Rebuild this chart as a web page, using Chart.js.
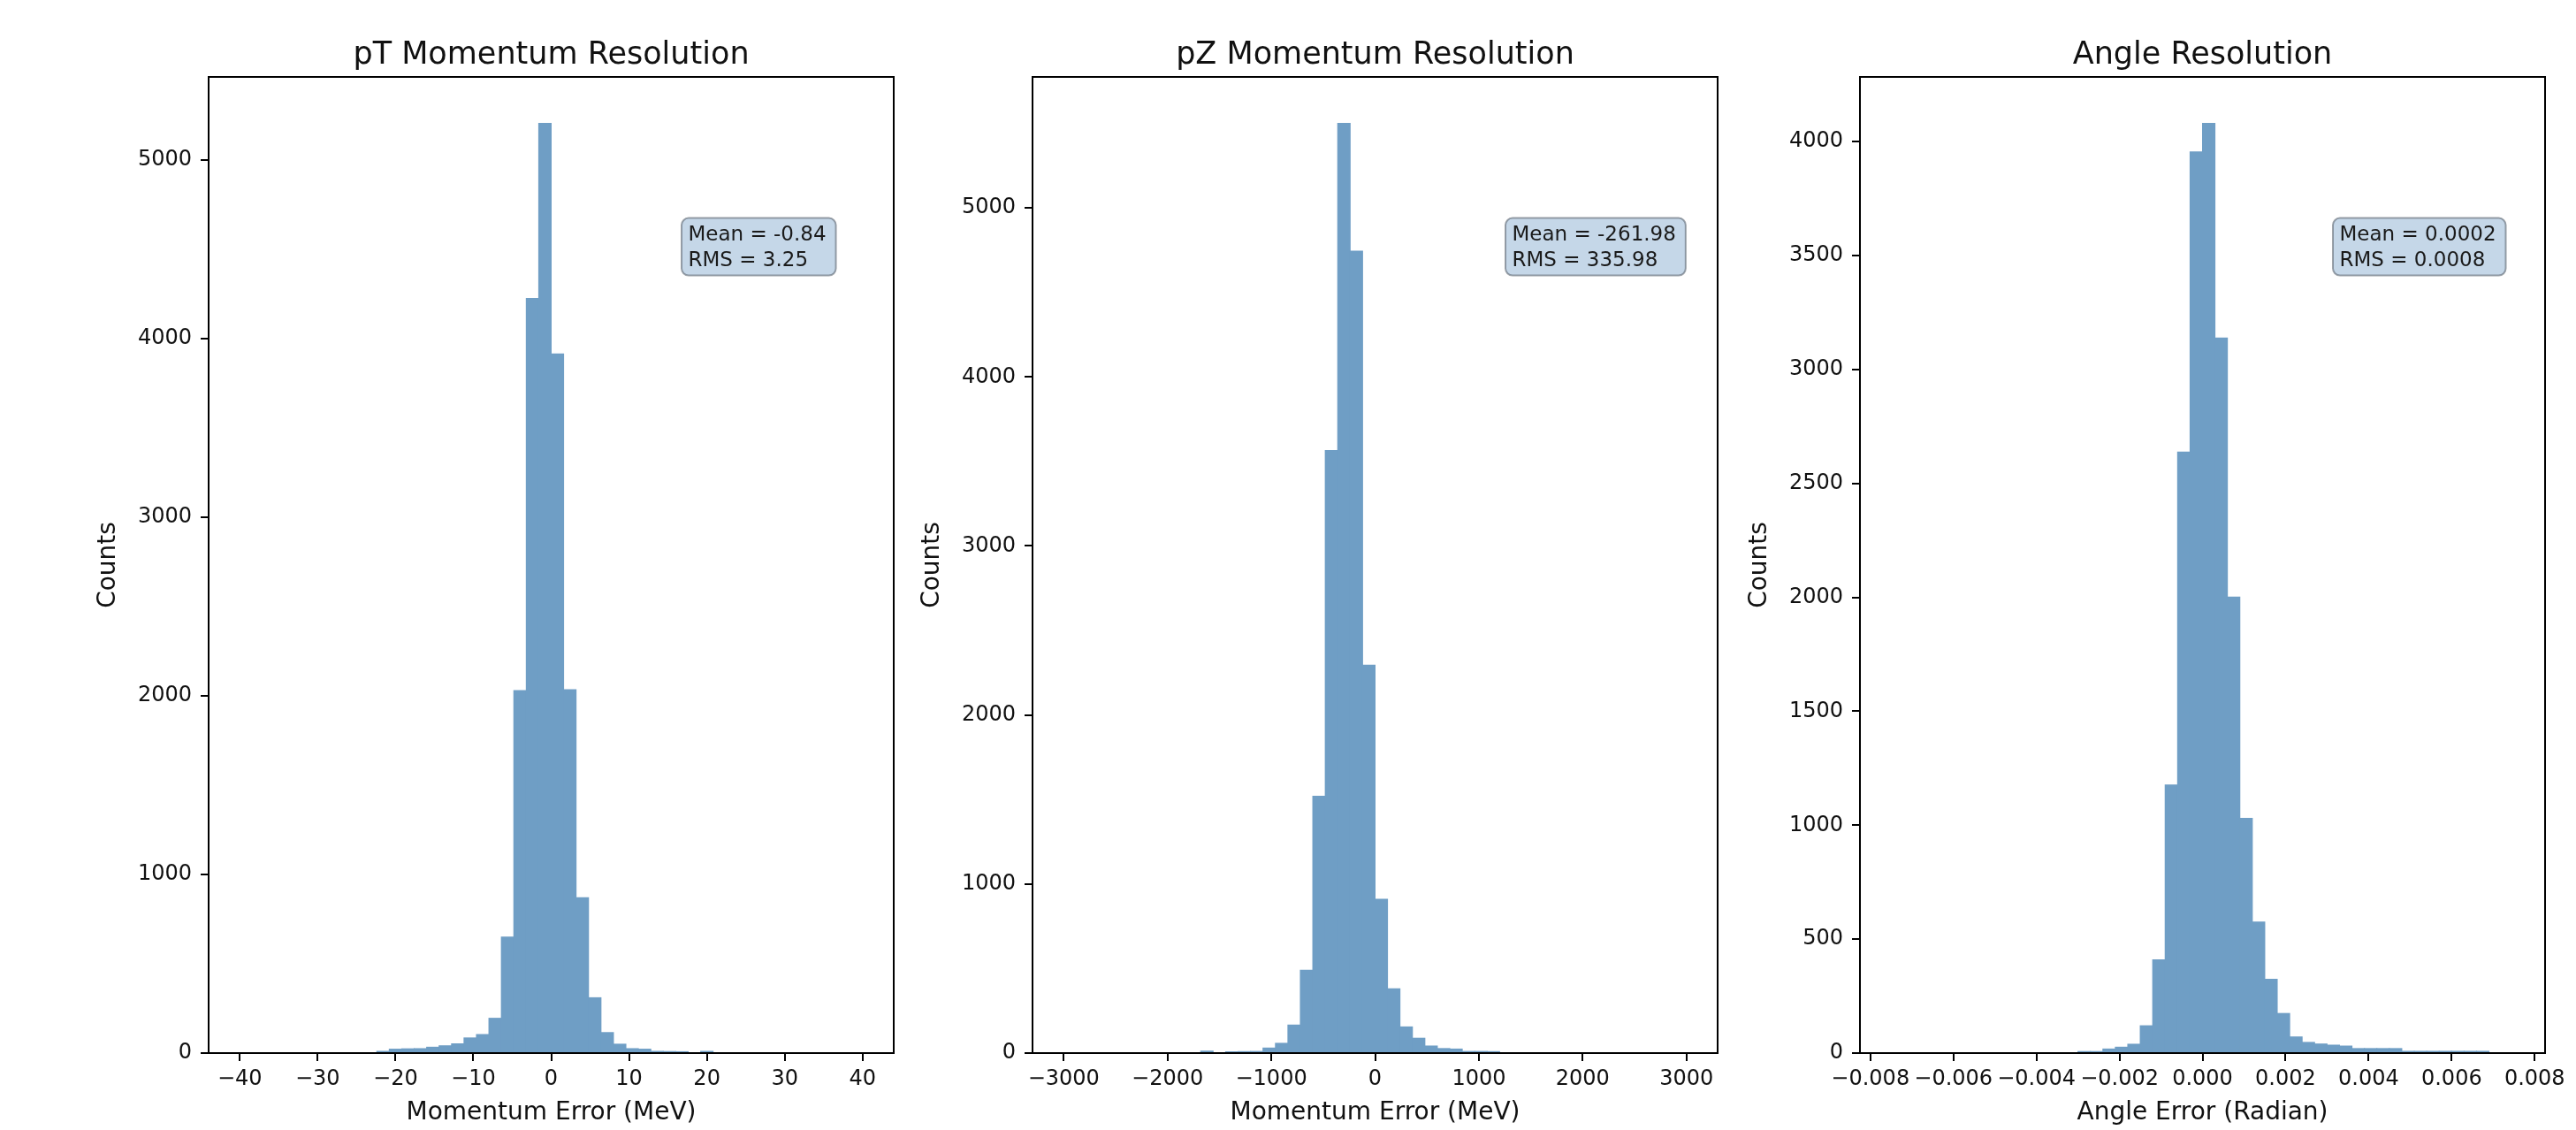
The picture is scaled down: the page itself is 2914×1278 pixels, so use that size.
<!DOCTYPE html>
<html>
<head>
<meta charset="utf-8">
<title>Resolution histograms</title>
<script src="https://cdn.jsdelivr.net/npm/chart.js@4.4.1/dist/chart.umd.min.js"></script>
<style>
  html, body { margin: 0; padding: 0; background: #fff; }
  body { width: 2914px; height: 1278px; position: relative; overflow: hidden; }
  canvas { position: absolute; top: 0; }
</style>
</head>
<body>
<canvas id="ptChart" width="960" height="1278" style="left:86px"></canvas>
<canvas id="pzChart" width="960" height="1278" style="left:1018px"></canvas>
<canvas id="angleChart" width="960" height="1278" style="left:1954px"></canvas>
<script>
// histogram ranges (bin edges span) and counts, 50 bins each
var ptRange = [-40, 40];
var ptCounts = [0, 0, 0, 0, 0, 0, 0, 0, 0, 0, 0,
  10, 22, 24, 25, 33, 41, 52, 85, 104, 195, 650, 2030, 4225, 5205,
  3915, 2035, 870, 310, 115, 50, 25, 22, 10, 9, 8, 0, 10,
  0, 0, 0, 0, 0, 0, 0, 0, 0, 0, 0, 0];

var pzRange = [-3000, 3000];
var pzCounts = [0, 0, 0, 0, 0, 0, 0, 0, 0, 0, 0,
  12, 0, 8, 9, 10, 30, 58, 166, 490, 1520, 3565, 5500, 4745, 2295,
  910, 380, 155, 88, 42, 27, 24, 10, 10, 9,
  0, 0, 0, 0, 0, 0, 0, 0, 0, 0, 0, 0, 0, 0, 0];

var angleRange = [-0.0075, 0.0075];
var angleCounts = [0, 0, 0, 0, 0, 0, 0, 0, 0, 0, 0, 0, 0, 0, 0,
  7, 7, 18, 26, 39, 120, 409, 1177, 2638, 3955,
  4080, 3138, 2001, 1030, 575, 324, 174, 71, 47, 40, 35, 31,
  20, 20, 20, 20, 8, 8, 8, 8, 8, 8, 8,
  0, 0];

// tick values
var ptXTicks = [-40, -30, -20, -10, 0, 10, 20, 30, 40];
var pzXTicks = [-3000, -2000, -1000, 0, 1000, 2000, 3000];
var angleXTicks = [-0.008, -0.006, -0.004, -0.002, 0, 0.002, 0.004, 0.006, 0.008];
var countTicks = [0, 1000, 2000, 3000, 4000, 5000];
var angleCountTicks = [0, 500, 1000, 1500, 2000, 2500, 3000, 3500, 4000];

var titles = ['pT Momentum Resolution', 'pZ Momentum Resolution', 'Angle Resolution'];
var xLabels = ['Momentum Error (MeV)', 'Momentum Error (MeV)', 'Angle Error (Radian)'];
var statLines = [
  ['Mean = -0.84', 'RMS = 3.25'],
  ['Mean = -261.98', 'RMS = 335.98'],
  ['Mean = 0.0002', 'RMS = 0.0008']
];

var FONT = 'DejaVu Sans';
var TEXT = '#111';
var BAR = 'rgb(111, 158, 197)';

Chart.defaults.font.family = FONT;

function minusFmt(v, digits) {
  var s = Math.abs(v).toFixed(digits);
  return (v < 0 && Number(s) !== 0 ? '\u2212' : '') + s;
}

// axes frame, title and the stats box
var framePlugin = {
  id: 'frame',
  afterDraw: function(chart, args, opts) {
    var ctx = chart.ctx, a = chart.chartArea;
    ctx.save();
    ctx.strokeStyle = '#000';
    ctx.lineWidth = 2;
    ctx.strokeRect(a.left, a.top, a.right - a.left, a.bottom - a.top);

    ctx.fillStyle = TEXT;
    ctx.font = '35px "' + FONT + '"';
    ctx.textAlign = 'center';
    ctx.textBaseline = 'alphabetic';
    ctx.fillText(opts.title, (a.left + a.right) / 2, a.top - 15);

    ctx.font = '23px "' + FONT + '"';
    var tx = a.left + 0.7 * (a.right - a.left);
    var ty = a.bottom - 0.85 * (a.bottom - a.top);
    var b1 = ty + 19.5, b2 = b1 + 28.5;
    var w = Math.max.apply(null, opts.stats.map(function(s) { return ctx.measureText(s).width; }));
    var x0 = tx - 7.5, y0 = ty - 6, x1 = tx + w + 11, y1 = b2 + 11, r = 8;
    ctx.beginPath();
    ctx.moveTo(x0 + r, y0);
    ctx.lineTo(x1 - r, y0);
    ctx.arcTo(x1, y0, x1, y0 + r, r);
    ctx.lineTo(x1, y1 - r);
    ctx.arcTo(x1, y1, x1 - r, y1, r);
    ctx.lineTo(x0 + r, y1);
    ctx.arcTo(x0, y1, x0, y1 - r, r);
    ctx.lineTo(x0, y0 + r);
    ctx.arcTo(x0, y0, x0 + r, y0, r);
    ctx.closePath();
    ctx.fillStyle = '#c5d7e8';
    ctx.fill();
    ctx.strokeStyle = 'rgba(80, 90, 100, 0.55)';
    ctx.lineWidth = 2;
    ctx.stroke();

    ctx.fillStyle = '#1a1a1a';
    ctx.textAlign = 'left';
    ctx.fillText(opts.stats[0], tx, b1);
    ctx.fillText(opts.stats[1], tx, b2);
    ctx.restore();
  }
};

function makeHist(id, range, counts, xTicks, yTicks, xDigits, title, xLabel, stats) {
  var binW = (range[1] - range[0]) / counts.length;
  var pts = counts.map(function(c, i) { return { x: range[0] + binW * (i + 0.5), y: c }; });
  var margin = (range[1] - range[0]) * 0.05;
  var yMax = Math.max.apply(null, counts) * 1.05;
  var tickGrid = { drawOnChartArea: false, drawTicks: true, tickLength: 9, color: '#000', lineWidth: 2 };

  new Chart(document.getElementById(id), {
    type: 'bar',
    data: {
      datasets: [{
        data: pts,
        backgroundColor: BAR,
        borderWidth: 0,
        inflateAmount: 0.5,
        barPercentage: 1,
        categoryPercentage: 1
      }]
    },
    options: {
      responsive: false,
      animation: false,
      layout: { padding: { top: 87, right: 35, bottom: 0, left: 0 } },
      plugins: {
        legend: { display: false },
        tooltip: { enabled: false },
        frame: { title: title, stats: stats }
      },
      scales: {
        x: {
          type: 'linear',
          min: range[0] - margin,
          max: range[1] + margin,
          offset: false,
          afterBuildTicks: function(s) { s.ticks = xTicks.map(function(v) { return { value: v }; }); },
          afterFit: function(s) { s.height = 87; s.paddingLeft = 0; s.paddingRight = 0; },
          grid: Object.assign({ offset: false }, tickGrid),
          border: { display: false },
          ticks: {
            autoSkip: false, maxRotation: 0, minRotation: 0, padding: 6,
            color: TEXT, font: { size: 24 },
            callback: function(v) { return minusFmt(v, xDigits); }
          },
          title: {
            display: true, text: xLabel, color: TEXT,
            font: { size: 28 }, padding: { top: 0, bottom: 2 }
          }
        },
        y: {
          min: 0,
          max: yMax,
          afterBuildTicks: function(s) { s.ticks = yTicks.map(function(v) { return { value: v }; }); },
          afterFit: function(s) { s.width = 150; s.paddingTop = 0; s.paddingBottom = 0; },
          grid: tickGrid,
          border: { display: false },
          ticks: {
            autoSkip: false, padding: 10, color: TEXT, font: { size: 24 },
            callback: function(v) { return String(v); }
          },
          title: {
            display: true, text: 'Counts', color: TEXT,
            font: { size: 28 }, padding: { top: 20, bottom: 0 }
          }
        }
      }
    },
    plugins: [framePlugin]
  });
}

makeHist('ptChart', ptRange, ptCounts, ptXTicks, countTicks, 0, titles[0], xLabels[0], statLines[0]);
makeHist('pzChart', pzRange, pzCounts, pzXTicks, countTicks, 0, titles[1], xLabels[1], statLines[1]);
makeHist('angleChart', angleRange, angleCounts, angleXTicks, angleCountTicks, 3, titles[2], xLabels[2], statLines[2]);
</script>
</body>
</html>
